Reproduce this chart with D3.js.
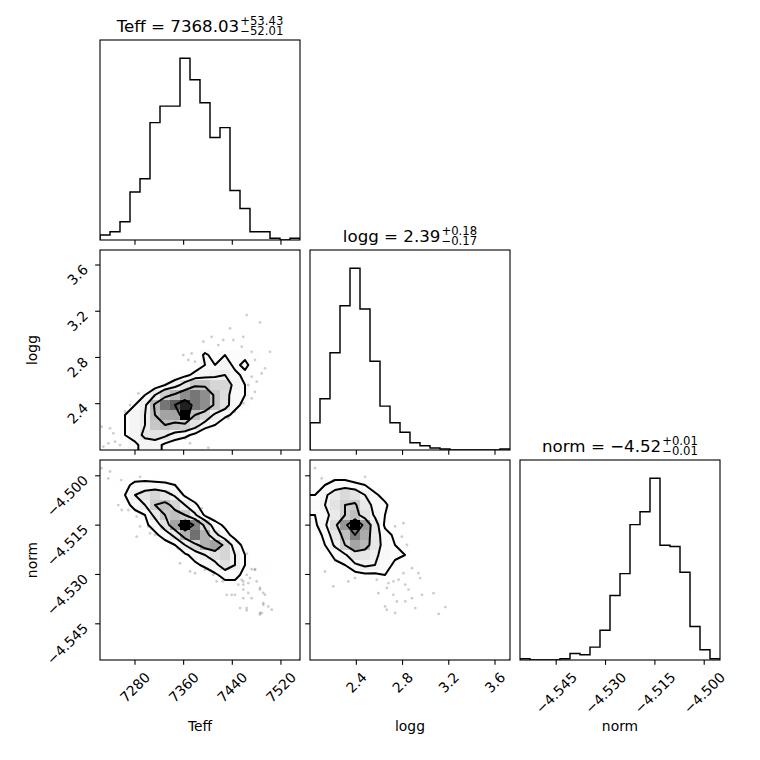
<!DOCTYPE html>
<html>
<head>
<meta charset="utf-8">
<script src="https://cdn.jsdelivr.net/npm/d3@7/dist/d3.min.js"></script>
<style>
  html,body{margin:0;padding:0;background:#fff;}
  svg{display:block;}
  text{font-family:"DejaVu Sans",sans-serif;fill:#000;}
</style>
</head>
<body>
<script>
// ---------------- data ----------------
const labels = ["Teff", "logg", "norm"];
const ranges = [[7222.5, 7551.3], [1.999, 3.730], [-4.5560, -4.4952]];
const tickValues = [[7280, 7360, 7440, 7520], [2.4, 2.8, 3.2, 3.6], [-4.545, -4.530, -4.515, -4.500]];
const tickLabels = [["7280", "7360", "7440", "7520"], ["2.4", "2.8", "3.2", "3.6"], ["\u22124.545", "\u22124.530", "\u22124.515", "\u22124.500"]];
const titleMain = ["Teff = 7368.03", "logg = 2.39", "norm = \u22124.52"];
const titleUpper = ["+53.43", "+0.18", "+0.01"];
const titleLower = ["\u221252.01", "\u22120.17", "\u22120.01"];

// 1D histogram counts (20 bins over each range)
const histTeff = [3, 5, 11, 29, 37, 71, 81, 81, 110, 97, 83, 62, 68, 30, 19, 5, 5, 1, 0, 1];
const histLogg = [26, 49, 93, 138, 174, 135, 85, 42, 26, 17, 7, 4, 2, 1, 0, 0, 0, 0, 0, 1];
const histNorm = [1, 0, 0, 0, 1, 5, 4, 10, 23, 50, 67, 105, 115, 141, 89, 88, 68, 26, 8, 1];

// 2D histogram counts, rows from top (high y) to bottom, columns left to right
const gridTeffLogg = [
  [0,0,0,0,0,0,0,0,0,0,0,0,0,0,0,0,0,0,0,1],
  [0,0,0,0,0,0,0,0,0,0,0,0,0,0,0,0,0,0,0,0],
  [0,0,0,0,0,0,0,0,0,0,0,0,0,0,0,0,0,0,0,0],
  [0,0,0,0,0,0,0,0,0,0,0,0,0,0,0,0,0,0,0,0],
  [0,0,0,0,0,0,0,0,0,0,0,0,0,0,0,0,0,0,0,0],
  [0,0,0,0,0,0,0,0,0,0,0,0,0,0,0,0,0,0,0,0],
  [0,0,0,0,0,0,0,0,0,0,0,0,0,0,0,1,0,0,0,0],
  [0,0,0,0,0,0,0,0,0,0,0,0,0,0,1,1,0,0,0,0],
  [0,0,0,0,0,0,0,0,0,0,0,0,0,1,1,1,1,0,0,0],
  [0,0,0,0,0,0,0,0,0,0,0,0,1,2,2,1,1,0,0,0],
  [0,0,0,0,0,0,0,0,0,0,5,2,4,3,3,2,1,1,0,0],
  [0,0,0,0,0,0,0,0,1,2,4,4,6,3,5,2,1,0,0,0],
  [0,0,0,0,0,0,1,2,3,5,6,7,8,5,3,1,1,0,0,0],
  [0,0,0,0,0,2,4,6,10,14,14,12,12,6,4,1,0,0,0,0],
  [0,0,0,2,4,8,13,16,20,22,20,14,11,4,4,0,0,0,0,0],
  [0,0,1,4,7,16,22,24,28,22,20,14,10,5,3,0,0,0,0,0],
  [1,1,4,6,8,15,18,18,30,15,12,7,5,3,0,0,0,0,0,0],
  [0,1,4,6,8,14,15,14,13,10,6,4,1,0,0,0,0,0,0,0],
  [1,1,4,6,9,10,9,6,5,3,0,0,0,0,0,0,0,0,0,0],
  [0,1,2,3,6,6,3,2,1,1,0,0,0,0,0,0,0,0,0,0]
];
const gridTeffNorm = [
  [1,0,0,0,0,0,0,0,0,0,0,0,0,0,0,0,0,0,0,0],
  [1,2,2,2,1,2,1,0,0,0,0,0,0,0,0,0,0,0,0,0],
  [1,2,3,5,6,5,5,4,1,0,0,0,0,0,0,0,0,0,0,0],
  [0,1,4,10,13,16,13,9,3,1,0,0,0,0,0,0,0,0,0,0],
  [0,0,2,6,10,18,20,16,10,5,1,0,0,0,0,0,0,0,0,0],
  [0,0,0,2,4,12,18,20,18,11,3,1,0,0,0,0,0,0,0,0],
  [0,0,0,0,3,6,14,24,40,28,16,6,3,1,0,0,0,0,0,0],
  [0,0,0,0,1,3,6,12,22,30,22,12,6,2,0,0,0,0,0,0],
  [0,0,0,0,0,1,2,4,10,16,22,24,16,7,2,0,0,0,0,0],
  [0,0,0,0,0,0,1,2,3,6,10,14,16,10,4,1,0,0,0,0],
  [0,0,0,0,0,0,0,0,1,3,5,8,14,10,4,3,2,0,0,0],
  [0,0,0,0,0,0,0,0,0,0,1,3,6,5,3,3,2,0,0,0],
  [0,0,0,0,0,0,0,0,0,0,0,0,2,3,2,2,1,0,0,0],
  [0,0,0,0,0,0,0,0,0,0,0,0,0,1,2,1,0,0,0,0],
  [0,0,0,0,0,0,0,0,0,0,0,0,0,0,2,1,2,0,0,0],
  [0,0,0,0,0,0,0,0,0,0,0,0,0,0,0,0,1,0,0,0],
  [0,0,0,0,0,0,0,0,0,0,0,0,0,0,0,0,0,0,0,0],
  [0,0,0,0,0,0,0,0,0,0,0,0,0,0,0,0,0,0,0,0],
  [0,0,0,0,0,0,0,0,0,0,0,0,0,0,0,0,0,0,0,0],
  [0,0,0,0,0,0,0,0,0,0,0,0,0,0,0,0,0,0,0,1]
];
const gridLoggNorm = [
  [1,0,0,0,0,0,0,0,0,0,0,0,0,0,0,0,0,0,0,0],
  [2,2,2,2,1,1,0,0,0,0,0,0,0,0,0,0,0,0,0,0],
  [2,4,6,6,5,4,1,0,0,0,0,0,0,0,0,0,0,0,0,0],
  [4,8,12,16,14,9,5,2,0,0,0,0,0,0,0,0,0,0,0,0],
  [6,9,14,18,19,12,7,5,1,0,0,0,0,0,0,0,0,0,0,0],
  [4,7,12,18,21,14,8,4,1,0,0,0,0,0,0,0,0,0,0,0],
  [3,8,16,27,42,26,12,3,2,0,0,0,0,0,0,0,0,0,0,0],
  [2,5,13,21,30,24,12,6,3,1,0,0,0,0,0,0,0,0,0,0],
  [2,4,10,18,25,22,13,6,4,2,0,0,0,0,0,0,0,0,0,0],
  [1,2,5,8,14,13,10,7,5,4,1,0,0,0,0,0,0,0,0,0],
  [0,1,3,4,8,10,9,6,3,2,2,1,0,0,0,0,0,0,0,0],
  [0,0,1,1,2,3,3,4,3,2,1,1,0,0,0,0,0,0,0,0],
  [0,0,0,0,0,1,1,2,2,2,1,1,0,0,0,0,0,0,0,0],
  [0,0,0,0,0,0,0,0,1,1,1,0,1,0,0,0,0,0,0,0],
  [0,0,0,0,0,0,0,1,0,1,1,1,0,1,0,0,0,0,0,0],
  [0,0,0,0,0,0,0,0,0,0,0,0,1,0,0,0,0,0,0,0],
  [0,0,0,0,0,0,0,0,0,0,0,0,0,0,0,0,0,0,0,0],
  [0,0,0,0,0,0,0,0,0,0,0,0,0,0,0,0,0,0,0,0],
  [0,0,0,0,0,0,0,0,0,0,0,0,0,0,0,0,0,0,0,0],
  [0,0,0,0,0,0,0,0,0,0,0,0,0,0,0,0,0,0,0,1]
];

// visible individual samples (outside the outermost contour)
const pointsTeffLogg = [
  [7463.7,3.167],[7485.5,3.104],[7406.0,2.979],[7425.2,2.951],[7441.7,2.951],[7458.1,2.979],
  [7417.0,2.907],[7373.2,2.835],[7367.7,2.778],[7378.7,2.763],[7455.4,2.893],[7471.9,2.849],
  [7502.0,2.849],[7477.3,2.778],[7488.3,2.662],[7471.9,2.633],[7480.1,2.590],[7466.3,2.561],
  [7477.3,2.503],[7452.7,2.446],[7471.9,2.446],[7458.1,2.403],[7444.4,2.330],[7225.3,2.201],
  [7238.9,2.187],[7244.4,2.143],[7247.2,2.071],[7236.2,2.057],[7255.4,2.042],[7228.0,2.028],
  [7362.2,2.100],[7370.5,2.057],[7400.5,2.019],[7433.4,2.273],[7493.8,2.706],[7436.2,3.052],
  [7392.4,2.936],[7359.4,2.821],[7285.5,2.489],[7271.8,2.388],[7263.6,2.330],[7551.0,3.728]
];
const pointsTeffNorm = [
  [7225.2,-4.4977],[7238.9,-4.4987],[7236.2,-4.5008],[7257.2,-4.5013],[7288.5,-4.5003],
  [7252.6,-4.5089],[7258.1,-4.5104],[7269.1,-4.5104],[7282.8,-4.5124],[7288.3,-4.5154],
  [7304.7,-4.5175],[7312.9,-4.5180],[7329.4,-4.5195],[7351.2,-4.5220],[7354.0,-4.5266],
  [7370.5,-4.5291],[7378.7,-4.5296],[7389.7,-4.5099],[7403.3,-4.5129],[7425.2,-4.5157],
  [7444.4,-4.5362],[7449.9,-4.5331],[7458.1,-4.5321],[7466.3,-4.5326],[7463.7,-4.5301],
  [7477.3,-4.5286],[7458.1,-4.5346],[7485.5,-4.5341],[7493.8,-4.5362],
  [7491.0,-4.5392],[7485.5,-4.5417],[7463.7,-4.5402],
  [7430.8,-4.5362],[7414.3,-4.5321],[7282.8,-4.5185],[7301.9,-4.5154],
  [7345.8,-4.5028],[7373.2,-4.5210],[7394.8,-4.5286],[7471.9,-4.5372],[7551.0,-4.5558],
  [7455.4,-4.5237],[7463.7,-4.5237],[7471.9,-4.5284],[7477.3,-4.5284],[7469.1,-4.5311],
  [7455.4,-4.5316],[7480.1,-4.5321],[7458.1,-4.5331],[7439.0,-4.5362],[7458.1,-4.5372],
  [7466.3,-4.5356],[7485.5,-4.5346],[7491.0,-4.5356],[7491.0,-4.5387],[7499.2,-4.5397],
  [7504.8,-4.5407],[7452.7,-4.5402],[7463.7,-4.5409],[7488.3,-4.5417],[7485.5,-4.5422],
  [7408.8,-4.5301],[7424.2,-4.5321]
];
const pointsLoggNorm = [
  [2.042,-4.4977],[2.100,-4.5008],[2.201,-4.5013],[2.476,-4.5003],[2.129,-4.5291],
  [2.201,-4.5336],[2.331,-4.5321],[2.389,-4.5311],[2.577,-4.5316],[2.591,-4.5357],
  [2.664,-4.5341],[2.678,-4.5326],[2.721,-4.5321],[2.765,-4.5316],[2.808,-4.5296],
  [2.881,-4.5281],[2.938,-4.5296],[2.953,-4.5311],[2.823,-4.5331],[2.852,-4.5346],
  [2.721,-4.5362],[2.751,-4.5382],[2.649,-4.5397],[2.664,-4.5407],[2.736,-4.5417],
  [2.823,-4.5382],[2.881,-4.5372],[2.910,-4.5402],[2.968,-4.5362],[3.068,-4.5357],
  [3.112,-4.5420],[3.170,-4.5399],[2.736,-4.5154],[2.808,-4.5144],[2.794,-4.5185],
  [2.838,-4.5210],[2.519,-4.5296],[2.621,-4.5291],[3.728,-4.5558]
];

// corner default contour levels (enclosed probability mass)
const sigmas = [0.5, 1.0, 1.5, 2.0];

// ---------------- layout ----------------
const W = 760, Hh = 760;
const S = 200, GAP = 10, LEFT = 100, TOP = 40;
const FS = 13.89, TFS = 16.67, SFS = 11.67;
const TICK = 4.86, PAD = 4.86;
const px = c => LEFT + c * (S + GAP);
const py = r => TOP + r * (S + GAP);

const svg = d3.select("body").append("svg").attr("width", W).attr("height", Hh);
const defs = svg.append("defs");
const xScales = ranges.map((d, i) => d3.scaleLinear().domain(d).range([px(i), px(i) + S]));
const yScales = ranges.map((d, i) => d3.scaleLinear().domain(d).range([py(i) + S, py(i)]));

function clipFor(id, c, r) {
  defs.append("clipPath").attr("id", id).append("rect")
    .attr("x", px(c)).attr("y", py(r)).attr("width", S).attr("height", S);
  return `url(#${id})`;
}

function drawHist(k, counts) {
  const xs = xScales[k];
  const ys = d3.scaleLinear().domain([0, 1.1 * d3.max(counts)]).range([py(k) + S, py(k)]);
  const n = counts.length;
  const edges = d3.range(n + 1).map(i => ranges[k][0] + i * (ranges[k][1] - ranges[k][0]) / n);
  const pts = [[edges[0], 0]];
  counts.forEach((c, i) => { pts.push([edges[i], c]); pts.push([edges[i + 1], c]); });
  pts.push([edges[n], 0]);
  svg.append("g").attr("clip-path", clipFor("h" + k, k, k))
    .append("path")
    .attr("d", d3.line().x(d => xs(d[0])).y(d => ys(d[1]))(pts))
    .attr("fill", "none").attr("stroke", "#000").attr("stroke-width", 1.45)
    .attr("stroke-linejoin", "miter");
}

function draw2D(r, c, grid, pts) {
  const xs = xScales[c], ys = yScales[r];
  const xr = ranges[c], yr = ranges[r];
  const ny = grid.length, nx = grid[0].length;
  const dx = (xr[1] - xr[0]) / nx, dy = (yr[1] - yr[0]) / ny;
  const g = svg.append("g").attr("clip-path", clipFor(`p${r}${c}`, c, r));

  // samples
  g.append("g").selectAll("circle").data(pts).join("circle")
    .attr("cx", d => xs(d[0])).attr("cy", d => ys(d[1])).attr("r", 1.39)
    .attr("fill", "#000").attr("fill-opacity", 0.2);

  // contour thresholds (corner algorithm)
  const flat = grid.flat().sort((a, b) => b - a);
  const tot = d3.sum(flat);
  const sm = Array.from(d3.cumsum(flat), v => v / tot);
  const levels = sigmas.map(s => 1 - Math.exp(-0.5 * s * s));
  let V = levels.map(v0 => {
    let val = flat[0];
    for (let k = 0; k < flat.length; k++) if (sm[k] <= v0) val = flat[k];
    return val;
  });
  V.sort((a, b) => a - b);
  for (;;) {
    let idx = -1;
    for (let k = 0; k < V.length - 1; k++) if (V[k + 1] === V[k]) { idx = k; break; }
    if (idx < 0) break;
    V[idx] *= (1 - 1e-4);
  }
  V.sort((a, b) => a - b);

  // padded grid (as corner does)
  const hmin = d3.min(flat), hmax = d3.max(flat);
  const NX = nx + 4, NY = ny + 4;
  const vals = new Array(NX * NY).fill(hmin);
  const G = (ix, iy) => grid[ny - 1 - iy][ix];
  const set = (ix, iy, v) => { vals[ix + iy * NX] = v; };
  for (let iy = 0; iy < ny; iy++) for (let ix = 0; ix < nx; ix++) set(ix + 2, iy + 2, G(ix, iy));
  for (let iy = 0; iy < ny; iy++) { set(1, iy + 2, G(0, iy)); set(NX - 2, iy + 2, G(nx - 1, iy)); }
  for (let ix = 0; ix < nx; ix++) { set(ix + 2, 1, G(ix, 0)); set(ix + 2, NY - 2, G(ix, ny - 1)); }
  set(1, 1, G(0, 0)); set(NX - 2, 1, G(nx - 1, 0)); set(1, NY - 2, G(0, ny - 1)); set(NX - 2, NY - 2, G(nx - 1, ny - 1));

  const gen = d3.contours().size([NX, NY]);
  const tf = d3.geoTransform({
    point(x, y) { this.stream.point(xs(xr[0] + (x - 2) * dx), ys(yr[0] + (y - 2) * dy)); }
  });
  const path = d3.geoPath(tf);

  // white base fill hiding the densest samples
  g.append("path").attr("d", path(gen.contour(vals, V[0])))
    .attr("fill", "#fff").attr("fill-rule", "evenodd").attr("stroke", "none");

  // density cells
  const cells = [];
  grid.forEach((row, j) => row.forEach((v, i) => { if (v > 0) cells.push({ i, iy: ny - 1 - j, v }); }));
  g.append("g").selectAll("rect").data(cells).join("rect")
    .attr("x", d => xs(xr[0] + d.i * dx))
    .attr("width", d => xs(xr[0] + (d.i + 1) * dx) - xs(xr[0] + d.i * dx))
    .attr("y", d => ys(yr[0] + (d.iy + 1) * dy))
    .attr("height", d => ys(yr[0] + d.iy * dy) - ys(yr[0] + (d.iy + 1) * dy))
    .attr("fill", d => { const t = Math.round(255 * (1 - d.v / hmax)); return `rgb(${t},${t},${t})`; })
    .attr("fill-opacity", d => d.v / hmax)
    .attr("shape-rendering", "crispEdges");

  // contour lines
  V.forEach(v => {
    g.append("path").attr("d", path(gen.contour(vals, v)))
      .attr("fill", "none").attr("stroke", "#000").attr("stroke-width", 2.0)
      .attr("stroke-linejoin", "round").attr("stroke-linecap", "round");
  });
}

function rotLabel(str, mode, ax, ay) {
  const t = svg.append("text").text(str).attr("font-size", FS)
    .attr("text-anchor", "middle").attr("dominant-baseline", "central");
  const w = t.node().getComputedTextLength();
  const half = (w + FS) * Math.SQRT1_2 / 2;
  const cx = mode === "x" ? ax : ax - half;
  const cy = ay + half;
  t.attr("transform", `translate(${cx},${cy}) rotate(-45)`);
}

function drawFrame(r, c, showY) {
  const g = svg.append("g");
  tickValues[c].forEach((v, k) => {
    const x = xScales[c](v), y = py(r) + S;
    g.append("line").attr("x1", x).attr("x2", x).attr("y1", y).attr("y2", y + TICK)
      .attr("stroke", "#000").attr("stroke-width", 1.1);
    if (r === 2) rotLabel(tickLabels[c][k], "x", x, y + TICK + PAD);
  });
  if (showY) {
    tickValues[r].forEach((v, k) => {
      const y = yScales[r](v), x = px(c);
      g.append("line").attr("x1", x - TICK).attr("x2", x).attr("y1", y).attr("y2", y)
        .attr("stroke", "#000").attr("stroke-width", 1.1);
      if (c === 0) rotLabel(tickLabels[r][k], "y", x - TICK - PAD, y - 3);
    });
  }
  g.append("rect").attr("x", px(c)).attr("y", py(r)).attr("width", S).attr("height", S)
    .attr("fill", "none").attr("stroke", "#000").attr("stroke-width", 1.1);
}

function drawTitle(k) {
  const cx = px(k) + S / 2, base = py(k) - 8.33;
  const tm = svg.append("text").text(titleMain[k]).attr("font-size", TFS);
  const tu = svg.append("text").text(titleUpper[k]).attr("font-size", SFS);
  const tl = svg.append("text").text(titleLower[k]).attr("font-size", SFS);
  const wm = tm.node().getComputedTextLength();
  const ws = Math.max(tu.node().getComputedTextLength(), tl.node().getComputedTextLength());
  const x0 = cx - (wm + ws + 1) / 2;
  tm.attr("x", x0).attr("y", base);
  tu.attr("x", x0 + wm + 1).attr("y", base - 6.9);
  tl.attr("x", x0 + wm + 1).attr("y", base + 3.6);
}

// ---------------- draw ----------------
const hists = [histTeff, histLogg, histNorm];
hists.forEach((h, k) => drawHist(k, h));
draw2D(1, 0, gridTeffLogg, pointsTeffLogg);
draw2D(2, 0, gridTeffNorm, pointsTeffNorm);
draw2D(2, 1, gridLoggNorm, pointsLoggNorm);

drawFrame(0, 0, false);
drawFrame(1, 1, false);
drawFrame(2, 2, false);
drawFrame(1, 0, true);
drawFrame(2, 0, true);
drawFrame(2, 1, true);
[0, 1, 2].forEach(drawTitle);

// axis labels
labels.forEach((lab, c) => {
  svg.append("text").text(lab).attr("font-size", FS).attr("text-anchor", "middle")
    .attr("x", px(c) + S / 2).attr("y", py(2) + S + 0.3 * S + 10.6);
});
[1, 2].forEach(r => {
  const x = LEFT - 0.3 * S - 3.3, y = py(r) + S / 2;
  svg.append("text").text(labels[r]).attr("font-size", FS).attr("text-anchor", "middle")
    .attr("transform", `translate(${x},${y}) rotate(-90)`);
});
</script>
</body>
</html>
